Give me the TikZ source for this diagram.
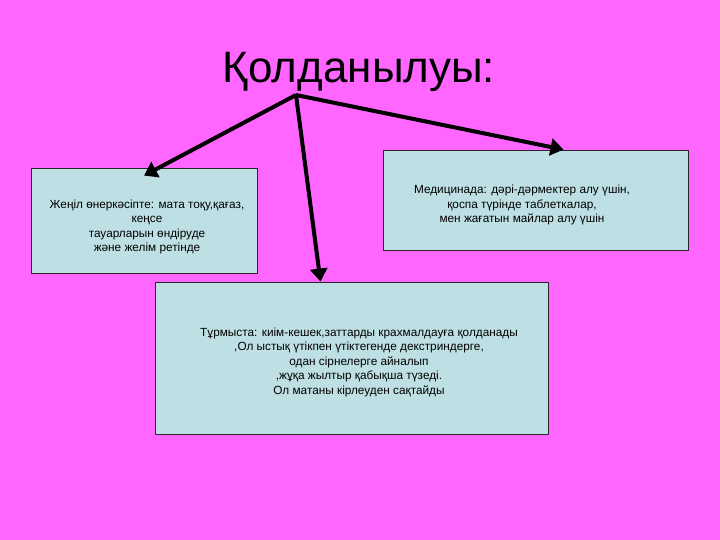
\documentclass[tikz,border=0pt]{standalone}
\usepackage{fontspec}
\setmainfont{Liberation Sans}
\usetikzlibrary{arrows.meta}
\definecolor{bgpink}{RGB}{255,102,255}
\definecolor{boxblue}{RGB}{190,224,228}

\begin{document}
\begin{tikzpicture}[x=1pt,y=-1pt]
                        \tikzstyle{box}=[draw=black!85, fill=boxblue, line width=0.8pt, inner sep=0pt]
                        \tikzstyle{txt}=[align=center, font=\fontsize{11.8}{14.5}\selectfont]
                        \tikzstyle{arr}=[line width=4pt, -{Triangle[length=13pt,width=17pt]}]
                        \fill[bgpink] (0,0) rectangle (720,540);
                        \useasboundingbox (0,0) rectangle (720,540);
                        \node[anchor=base, font=\fontsize{44}{50}\selectfont] (title) at (359,83) {Қолданылуы:};
                        \coordinate (apex) at (296,95);
                        \node[box, minimum width=226pt, minimum height=105pt] (jenil) at (144,220.5) {};
                        \node[box, minimum width=305pt, minimum height=100pt] (med) at (535.5,200) {};
                        \node[box, minimum width=393pt, minimum height=152pt] (turmys) at (351.5,358) {};
                        \node[txt] (jeniltxt) at (147,227) {Жеңіл өнеркәсіпте: мата тоқу,қағаз,\\ кеңсе\\ тауарларын  өндіруде\\ және желім ретінде};
                        \node[txt] (medtxt) at (522,205) {Медицинада: дәрі-дәрмектер алу үшін,\\ қоспа түрінде  таблеткалар,\\ мен жағатын майлар алу үшін};
                        \node[txt] (turmystxt) at (359,362) {Тұрмыста: киім-кешек,заттарды крахмалдауға қолданады\\ ,Ол ыстық үтікпен үтіктегенде декстриндерге,\\ одан сірнелерге айналып\\ ,жұқа жылтыр қабықша түзеді.\\ Ол матаны кірлеуден сақтайды};
                        \draw[arr] (apex) -- ([yshift=-8pt]jenil.north);
                        \draw[arr] (apex) -- ([xshift=28pt]med.north);
                        \draw[arr] (apex) -- ([xshift=-31pt]turmys.north);
                    \end{tikzpicture}
\end{document}
